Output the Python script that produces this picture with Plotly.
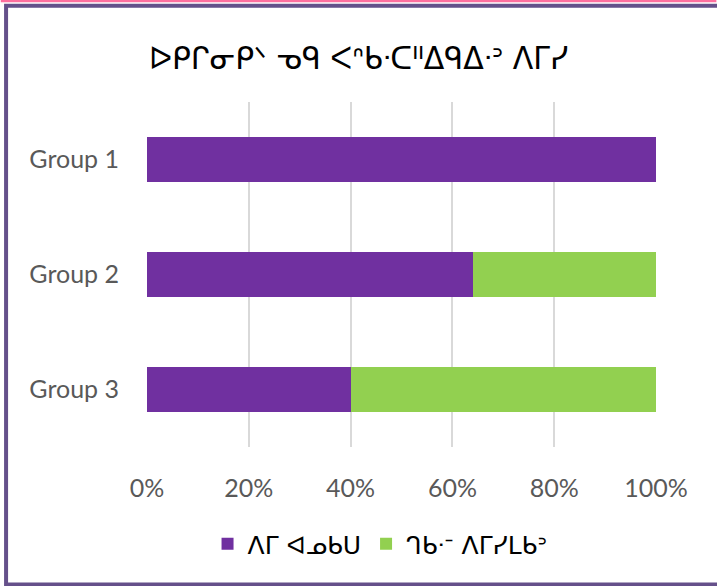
import plotly.graph_objects as go

title_text = "ᐅᑭᒋᓂᑭᐠ ᓀᑫ ᐸᐢᑲᐧᑕᐦᐃᑫᐃᐧᐣ ᐱᒥᓯ"
categories = ["Group 1", "Group 2", "Group 3"]
series_names = ["ᐱᒥ ᐊᓄᑲᑌ", "ᒉᑲᐧᐨ ᐱᒥᓯᒪᑲᐣ"]
series_a = [100, 64, 40]
series_b = [0, 36, 60]
colors = ["#7030A0", "#92D050"]
x_ticks = [0, 20, 40, 60, 80, 100]
x_ticklabels = ["0%", "20%", "40%", "60%", "80%", "100%"]

W, H = 717, 586
L, R, T, B = 146.5, 656.5, 102, 447


def px(x):
    return (x - L) / (R - L)


def py(y):
    return (B - y) / (B - T)


fig = go.Figure()
for name, vals, col in zip(series_names, [series_a, series_b], colors):
    fig.add_trace(go.Bar(
        y=categories, x=vals, name=name, orientation="h",
        marker=dict(color=col, line=dict(width=0)),
    ))

fig.update_layout(
    width=W, height=H,
    margin=dict(l=L, r=W - R, t=T, b=H - B, autoexpand=False),
    paper_bgcolor="white", plot_bgcolor="white",
    barmode="stack", bargap=0.61,
    font=dict(family="Lato, Open Sans, DejaVu Sans", color="#595959"),
    title=dict(text=title_text, x=0.5, xanchor="center", xref="container",
               y=1 - 58 / H, yanchor="middle",
               font=dict(family="DejaVu Sans", size=30, color="#000000")),
    xaxis=dict(range=[0, 100], tickvals=x_ticks, ticktext=x_ticklabels,
               showgrid=True, gridcolor="#D9D9D9", gridwidth=1.5,
               zeroline=False, showline=False,
               tickfont=dict(size=25, color="#595959"),
               ticklabelstandoff=24, fixedrange=True),
    yaxis=dict(autorange="reversed", showgrid=False, zeroline=False,
               showline=False, tickfont=dict(size=25, color="#595959"),
               ticklabelstandoff=27),
    legend=dict(orientation="h", x=px(380), xanchor="center",
                y=py(544), yanchor="middle",
                font=dict(family="DejaVu Sans", size=25, color="#000000"),
                itemsizing="constant", traceorder="normal"),
    showlegend=True,
    shapes=[
        dict(type="line", xref="paper", yref="paper",
             x0=px(0), x1=px(W), y0=py(1), y1=py(1),
             line=dict(color="#FF6E9E", width=2.5)),
        dict(type="rect", xref="paper", yref="paper",
             x0=px(5.3), x1=px(W + 20), y0=py(5.8), y1=py(584.5),
             line=dict(color="#65508A", width=4), layer="above"),
    ],
)

fig.write_html(
    "out.html",
    config={"displayModeBar": False, "staticPlot": False},
    post_script="document.body.style.margin='0px';document.body.style.overflow='hidden';",
)
